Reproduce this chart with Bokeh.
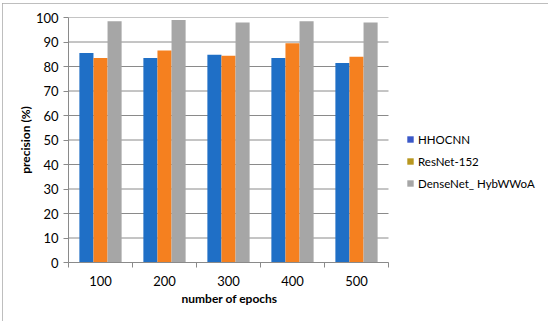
from bokeh.plotting import figure
from bokeh.models import FixedTicker, Range1d, Legend, LegendItem, InlineStyleSheet, Title
from bokeh.embed import file_html
from bokeh.resources import INLINE

epochs = ["100", "200", "300", "400", "500"]
hhocnn = [85.5, 83.5, 84.8, 83.5, 81.4]
resnet = [83.5, 86.5, 84.4, 89.5, 84.0]
densenet = [98.5, 99.0, 98.0, 98.5, 98.0]
series_names = ["HHOCNN", "ResNet-152", "DenseNet_ HybWWoA"]
y_ticks = [0, 10, 20, 30, 40, 50, 60, 70, 80, 90, 100]
x_title = "number of epochs"
y_title = "precision (%)"

bar_colors = ["#1f6fc6", "#f5801f", "#a6a6a6"]
legend_colors = ["#3a58c8", "#b8971f", "#a6a6a6"]
FONT = "Lato"
AX = "#8a8a8a"

n = len(epochs)
xs = list(range(1, n + 1))
# frame spans the plot area plus the legend area on the right
x_end = 0.5 + 476 / 64

p = figure(width=546, height=318, output_backend="svg", toolbar_location=None,
           x_range=Range1d(0.5, x_end), y_range=Range1d(0, 100),
           min_border_left=66, min_border_right=4, min_border_top=14, min_border_bottom=59)
p.stylesheets = [InlineStyleSheet(css=":host { margin-left: 2px; margin-top: 3px; outline: 1px solid #a8a8a8; outline-offset: -1px; }")]
p.outline_line_color = None
p.background_fill_color = "white"
p.border_fill_color = "white"

# horizontal gridlines limited to the category area
p.segment(x0=[0.5] * len(y_ticks), x1=[n + 0.5] * len(y_ticks), y0=y_ticks, y1=y_ticks,
          line_color=AX, line_width=1)

w = 0.22
for k, vals in enumerate([hhocnn, resnet, densenet]):
    off = (k - 1) * w
    p.vbar(x=[x + off for x in xs], top=vals, bottom=0, width=w,
           fill_color=bar_colors[k], line_color=None)

dummies = []
for k in range(3):
    d = p.vbar(x=[-10], top=[1], bottom=[0], width=0.1, fill_color=legend_colors[k], line_color=None)
    dummies.append(d)

legend = Legend(items=[LegendItem(label=series_names[k], renderers=[dummies[k]]) for k in range(3)],
                location=(338, 71), orientation="vertical", margin=0,
                glyph_width=8, glyph_height=8, label_height=16, spacing=6, padding=0,
                label_standoff=4, border_line_color=None, background_fill_alpha=0,
                label_text_font=FONT, label_text_font_size="11.5px", label_text_color="#000000")
p.add_layout(legend, "center")

# axes
p.xaxis.bounds = (0.5, n + 0.5)
p.xaxis.ticker = FixedTicker(ticks=xs, minor_ticks=[x - 0.5 for x in xs] + [n + 0.5])
p.xaxis.major_label_overrides = {x: epochs[i] for i, x in enumerate(xs)}
p.xaxis.major_tick_out = 0
p.xaxis.major_tick_in = 0
p.xaxis.minor_tick_out = 5
p.xaxis.minor_tick_in = 0
p.xaxis.minor_tick_line_color = AX
p.xaxis.axis_line_color = AX
p.xaxis.major_label_standoff = 8

# x title centred under the category area (not the whole frame)
xt = Title(text=x_title, align="left", offset=113, standoff=0,
           text_font=FONT, text_font_size="12px", text_font_style="bold", text_color="#000000")
p.add_layout(xt, "below")

p.yaxis.ticker = FixedTicker(ticks=y_ticks)
p.yaxis.minor_tick_line_color = None
p.yaxis.major_tick_out = 5
p.yaxis.major_tick_in = 0
p.yaxis.major_tick_line_color = AX
p.yaxis.axis_line_color = AX
p.yaxis.major_label_standoff = 5
p.yaxis.axis_label = y_title
p.yaxis.axis_label_standoff = 0

for ax in (p.xaxis[0], p.yaxis[0]):
    ax.major_label_text_font = FONT
    ax.major_label_text_font_size = "13px"
    ax.major_label_text_color = "#000000"
    ax.axis_label_text_font = FONT
    ax.axis_label_text_font_size = "12px"
    ax.axis_label_text_font_style = "bold"
    ax.axis_label_text_color = "#000000"

p.xgrid.grid_line_color = None
p.ygrid.grid_line_color = None

open("out.html", "w").write(file_html(p, INLINE))
